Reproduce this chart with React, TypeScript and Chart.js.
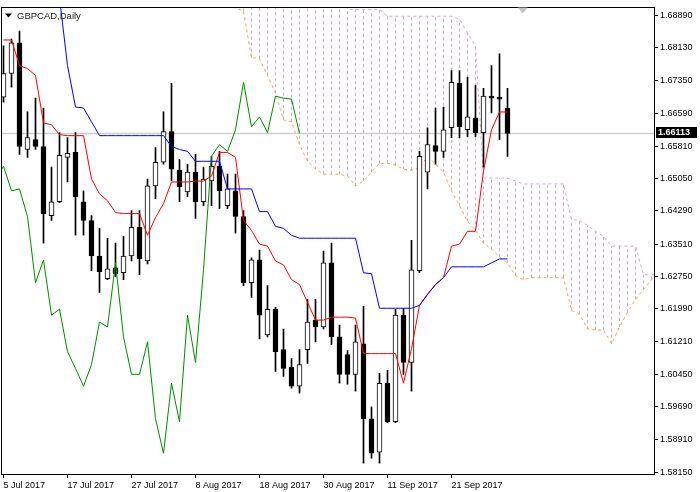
import React, { useEffect, useRef } from "react";
import { Chart, registerables } from "chart.js";

Chart.register(...registerables);

// ---- Axis labels ----
const dateTickIndex = [0, 8, 16, 24, 32, 40, 48, 56];
const dateLabels = ["5 Jul 2017", "17 Jul 2017", "27 Jul 2017", "8 Aug 2017", "18 Aug 2017", "30 Aug 2017", "11 Sep 2017", "21 Sep 2017"];
const priceTicks = [1.6889, 1.6813, 1.6735, 1.6659, 1.6581, 1.6505, 1.6429, 1.6351, 1.6275, 1.6199, 1.6121, 1.6045, 1.5969, 1.5891, 1.5815];

// ---- GBPCAD daily candles (5 Jul 2017 .. 2 Oct 2017) ----
const opens = [
  1.66965, 1.67522, 1.68241, 1.65735, 1.65967, 1.65805, 1.64181, 1.64506, 1.65550, 1.65666,
  1.64506, 1.64065, 1.63230, 1.62697, 1.62952, 1.62836, 1.63230, 1.63903, 1.63114, 1.64877,
  1.65434, 1.66153, 1.65248, 1.64738, 1.65202, 1.64506, 1.64993, 1.65341, 1.64413, 1.64761,
  1.64158, 1.62604, 1.63137, 1.61375, 1.61978, 1.61027, 1.60609, 1.60168, 1.61027, 1.61723,
  1.61560, 1.63068, 1.61328, 1.60911, 1.60447, 1.61166, 1.59403, 1.58614, 1.60238, 1.59333,
  1.61839, 1.60725, 1.62882, 1.65202, 1.65828, 1.65689, 1.66246, 1.67290, 1.66199, 1.66478,
  1.66130, 1.66988, 1.66965, 1.66710,
];
const highs = [
  1.68171, 1.68333, 1.68519, 1.66617, 1.66942, 1.66710, 1.65318, 1.66130, 1.66014, 1.66130,
  1.64761, 1.64181, 1.63880, 1.63648, 1.63532, 1.63694, 1.64297, 1.64297, 1.65040, 1.65782,
  1.66617, 1.67290, 1.65503, 1.65387, 1.65619, 1.65318, 1.65573, 1.65689, 1.65155, 1.65155,
  1.64297, 1.63184, 1.63369, 1.62534, 1.62024, 1.61514, 1.60818, 1.61027, 1.62210, 1.62210,
  1.63346, 1.63532, 1.61607, 1.61003, 1.61607, 1.62047, 1.59681, 1.60470, 1.60540, 1.61978,
  1.62001, 1.63601, 1.65689, 1.66246, 1.66710, 1.66733, 1.67591, 1.67591, 1.67429, 1.67243,
  1.67174, 1.67707, 1.67985, 1.67174,
];
const lows = [
  1.66849, 1.67197, 1.65619, 1.65550, 1.65735, 1.63532, 1.64065, 1.64483, 1.64970, 1.63717,
  1.63717, 1.62882, 1.62372, 1.62674, 1.62743, 1.62674, 1.63114, 1.62790, 1.63045, 1.64576,
  1.65387, 1.64993, 1.64506, 1.64622, 1.64112, 1.64413, 1.64413, 1.64344, 1.64344, 1.63764,
  1.62534, 1.62256, 1.61282, 1.61328, 1.60516, 1.60400, 1.60122, 1.60006, 1.60702, 1.61212,
  1.61514, 1.61143, 1.60238, 1.60215, 1.60052, 1.58359, 1.58475, 1.58359, 1.59310, 1.59310,
  1.60447, 1.60052, 1.62836, 1.64807, 1.65387, 1.65550, 1.66014, 1.66014, 1.66037, 1.66037,
  1.65318, 1.66594, 1.65967, 1.65573,
];
const closes = [
  1.67522, 1.68241, 1.65805, 1.66014, 1.65805, 1.64228, 1.64506, 1.65596, 1.65643, 1.64622,
  1.64065, 1.63230, 1.62859, 1.62929, 1.62813, 1.63230, 1.63903, 1.63161, 1.64877, 1.65434,
  1.66153, 1.65271, 1.64854, 1.65202, 1.64506, 1.65040, 1.65341, 1.64761, 1.64807, 1.64158,
  1.62604, 1.63137, 1.61839, 1.61978, 1.60980, 1.60586, 1.60168, 1.60679, 1.61676, 1.61560,
  1.63068, 1.61328, 1.60447, 1.60447, 1.61212, 1.59403, 1.58591, 1.60238, 1.59333, 1.61839,
  1.60725, 1.62906, 1.65573, 1.65851, 1.65689, 1.66199, 1.67313, 1.66269, 1.66501, 1.66130,
  1.66988, 1.66942, 1.66918, 1.66113,
];
const lastPrice = 1.66113;

// ---- Ichimoku lines ----
const tenkan = [
  1.68310, 1.68310, 1.67707, 1.67638, 1.67475, 1.66362, 1.66315, 1.66083, 1.66060, 1.66060,
  1.66060, 1.65040, 1.64692, 1.64529, 1.64251, 1.64228, 1.64228, 1.64228, 1.63717, 1.64135,
  1.64460, 1.64970, 1.64970, 1.64970, 1.64993, 1.64993, 1.65109, 1.65666, 1.65666, 1.65550,
  1.64065, 1.63833, 1.63509, 1.63462, 1.63114, 1.63021, 1.62674, 1.62558, 1.62140, 1.61723,
  1.61723, 1.61792, 1.61792, 1.61792, 1.61769, 1.60934, 1.60934, 1.60934, 1.60934, 1.60934,
  1.60238, 1.61050, 1.62070, 1.62326, 1.62558, 1.62720, 1.63462, 1.63509, 1.63810, 1.63810,
  1.65225, 1.66199, 1.66617, 1.66617,
];
const kijun = [
  null, null, null, null, null, null, null, 1.69308, 1.67707, 1.66733,
  1.66710, 1.66385, 1.66060, 1.66060, 1.66060, 1.66060, 1.66060, 1.66060, 1.66060, 1.66060,
  1.66060, 1.65805, 1.65735, 1.65689, 1.65457, 1.65457, 1.65457, 1.65457, 1.64807, 1.64807,
  1.64807, 1.64807, 1.64274, 1.64274, 1.63926, 1.63880, 1.63717, 1.63648, 1.63648, 1.63648,
  1.63648, 1.63648, 1.63648, 1.63648, 1.63648, 1.62836, 1.62813, 1.62001, 1.62001, 1.62001,
  1.62001, 1.62001, 1.62070, 1.62326, 1.62558, 1.62720, 1.62975, 1.62975, 1.62975, 1.62975,
  1.62975, 1.63068, 1.63161, 1.63161,
];
const chikouStart = -1;
const chikou = [
  1.65040, 1.65341, 1.64761, 1.64807, 1.64158, 1.62604, 1.63137, 1.61839, 1.61978, 1.60980,
  1.60586, 1.60168, 1.60679, 1.61676, 1.61560, 1.63068, 1.61328, 1.60447, 1.60447, 1.61212,
  1.59403, 1.58591, 1.60238, 1.59333, 1.61839, 1.60725, 1.62906, 1.65573, 1.65851, 1.65689,
  1.66199, 1.67313, 1.66269, 1.66501, 1.66130, 1.66988, 1.66942, 1.66918, 1.66113,
];
const spanStart = 27;
const spanA = [
  1.69377, 1.69192, 1.69064, 1.68983, 1.67893, 1.67869, 1.67475, 1.67058, 1.66431, 1.66385,
  1.65851, 1.65457, 1.65271, 1.65155, 1.65155, 1.65155, 1.65109, 1.64877, 1.64993, 1.65202,
  1.65411, 1.65411, 1.65364, 1.65271, 1.65248, 1.65295, 1.65573, 1.65387, 1.65202, 1.64761,
  1.64413, 1.64042, 1.63833, 1.63532, 1.63393, 1.63207, 1.63068, 1.62766, 1.62674, 1.62720,
  1.62720, 1.62720, 1.62720, 1.62720, 1.61954, 1.61862, 1.61514, 1.61491, 1.61491, 1.61166,
  1.61560, 1.61908, 1.62210, 1.62442, 1.62674, 1.62836,
];
const spanB = [
  1.69795, 1.69795, 1.69795, 1.69795, 1.69795, 1.69795, 1.69795, 1.69795, 1.69795, 1.69795,
  1.69795, 1.69795, 1.69795, 1.69795, 1.69795, 1.69795, 1.69029, 1.69029, 1.69029, 1.69029,
  1.69029, 1.68867, 1.68867, 1.68867, 1.68867, 1.68867, 1.68867, 1.68867, 1.68867, 1.68867,
  1.68797, 1.68473, 1.68171, 1.65063, 1.65063, 1.65063, 1.65063, 1.64993, 1.64924, 1.64924,
  1.64924, 1.64924, 1.64924, 1.64924, 1.64089, 1.64065, 1.63949, 1.63810, 1.63694, 1.63462,
  1.63462, 1.63462, 1.63462, 1.62790, 1.62790, 1.62790,
];

const X_MIN = -0.3125;
const X_MAX = 81.3125;
const Y_MIN = 1.581036;
const Y_MAX = 1.6907557;
const FONT = '"Liberation Sans", Arial, sans-serif';
const KUMO_COLOR = "#d3aad3";

const overlayPlugin = {
  id: "mt4overlay",
  afterDraw(chart: any) {
    const { ctx, chartArea: a, scales } = chart;
    ctx.save();
    ctx.strokeStyle = "#000";
    ctx.lineWidth = 1;
    ctx.strokeRect(Math.round(a.left) + 0.5, Math.round(a.top) + 0.5, Math.round(a.right - a.left), Math.round(a.bottom - a.top));
    ctx.fillStyle = "#000";
    ctx.beginPath();
    ctx.moveTo(a.left + 4, a.top + 6);
    ctx.lineTo(a.left + 11, a.top + 6);
    ctx.lineTo(a.left + 7.5, a.top + 10);
    ctx.closePath();
    ctx.fill();
    ctx.font = `9.5px ${FONT}`;
    ctx.textBaseline = "middle";
    ctx.textAlign = "left";
    ctx.fillStyle = "#1a1a1a";
    ctx.fillText("GBPCAD,Daily", a.left + 16, a.top + 8.5);
    const sx = scales.x.getPixelForValue(closes.length + 0.9);
    ctx.fillStyle = "#c4c4c4";
    ctx.beginPath();
    ctx.moveTo(sx - 5, a.top);
    ctx.lineTo(sx + 5, a.top);
    ctx.lineTo(sx, a.top + 6);
    ctx.closePath();
    ctx.fill();
    const py = scales.y.getPixelForValue(lastPrice);
    ctx.fillStyle = "#000";
    ctx.fillRect(a.right + 2, Math.round(py) - 6, 41, 11);
    ctx.fillStyle = "#fff";
    ctx.font = `bold 9px ${FONT}`;
    ctx.fillText(lastPrice.toFixed(5), a.right + 4, Math.round(py) - 0.5);
    ctx.restore();
  },
};

export default function App() {
  const ref = useRef<HTMLCanvasElement>(null);

  useEffect(() => {
    const canvas = ref.current;
    if (!canvas) return;
    const idx = opens.map((_, i) => i);

    // one dotted vertical segment per bar between the two Senkou spans (MT4 style kumo)
    const kumoSets = spanA.map((a, k) => ({
      type: "line",
      label: "Kumo",
      data: [
        { x: spanStart + k, y: a },
        { x: spanStart + k, y: spanB[k] },
      ],
      borderColor: KUMO_COLOR,
      borderWidth: 1,
      borderDash: [3, 3],
      pointRadius: 0,
      order: 9,
    }));

    const chart = new Chart(canvas, {
      type: "line",
      data: {
        datasets: [
          ...(kumoSets as any[]),
          {
            type: "line",
            label: "Senkou Span A",
            data: spanA.map((v, k) => ({ x: spanStart + k, y: v })),
            borderColor: "#f4a460",
            borderWidth: 1,
            borderDash: [3, 3],
            pointRadius: 0,
            order: 8,
          },
          {
            type: "line",
            label: "Senkou Span B",
            data: spanB.map((v, k) => ({ x: spanStart + k, y: v })),
            borderColor: KUMO_COLOR,
            borderWidth: 1,
            borderDash: [3, 3],
            pointRadius: 0,
            order: 8,
          },
          {
            type: "line",
            label: "Bid",
            data: [{ x: X_MIN, y: lastPrice }, { x: X_MAX, y: lastPrice }],
            borderColor: "#cdcdcd",
            borderWidth: 1.5,
            pointRadius: 0,
            order: 7,
          },
          {
            type: "bar",
            label: "Wick",
            data: idx.map((i) => ({ x: i, y: [lows[i], highs[i]] })),
            backgroundColor: "#000",
            borderWidth: 0,
            barThickness: 1,
            grouped: false,
            order: 6,
          } as any,
          {
            type: "bar",
            label: "Body",
            data: idx.map((i) => ({ x: i, y: [opens[i], closes[i]] })),
            backgroundColor: idx.map((i) => (closes[i] > opens[i] ? "#ffffff" : "#000000")),
            borderColor: "#000",
            borderWidth: 1,
            borderSkipped: false,
            barThickness: 5,
            grouped: false,
            order: 5,
          } as any,
          {
            type: "line",
            label: "Tenkan-sen",
            data: tenkan.map((v, i) => ({ x: i, y: v })),
            borderColor: "#ff0000",
            borderWidth: 1,
            pointRadius: 0,
            order: 4,
          },
          {
            type: "line",
            label: "Kijun-sen",
            data: kijun.map((v, i) => ({ x: i, y: v })).filter((p) => p.y !== null) as any,
            borderColor: "#0000ff",
            borderWidth: 1,
            pointRadius: 0,
            order: 3,
          },
          {
            type: "line",
            label: "Chikou Span",
            data: chikou.map((v, k) => ({ x: chikouStart + k, y: v })),
            borderColor: "#008a00",
            borderWidth: 1,
            pointRadius: 0,
            order: 2,
          },
        ],
      },
      options: {
        animation: false,
        responsive: false,
        devicePixelRatio: 1,
        events: [],
        layout: { padding: { left: 1, top: 1, right: 0, bottom: 0 }, autoPadding: false } as any,
        elements: { line: { tension: 0 }, point: { radius: 0 } },
        plugins: { legend: { display: false }, tooltip: { enabled: false }, title: { display: false } },
        scales: {
          x: {
            type: "linear",
            min: X_MIN,
            max: X_MAX,
            offset: false,
            afterBuildTicks: (s: any) => {
              s.ticks = dateTickIndex.map((v) => ({ value: v }));
            },
            afterFit: (s: any) => {
              s.height = 18;
            },
            ticks: {
              autoSkip: false,
              maxRotation: 0,
              align: "start",
              padding: 2,
              color: "#000",
              font: { family: FONT, size: 9 },
              callback: (v: any) => dateLabels[dateTickIndex.indexOf(Number(v))],
            },
            grid: { drawOnChartArea: false, drawTicks: true, tickLength: 4, color: "#000", offset: false },
            border: { display: true, color: "#000" },
          } as any,
          y: {
            type: "linear",
            position: "right",
            min: Y_MIN,
            max: Y_MAX,
            afterBuildTicks: (s: any) => {
              s.ticks = priceTicks.map((v) => ({ value: v }));
            },
            afterFit: (s: any) => {
              s.width = 46;
            },
            ticks: {
              autoSkip: false,
              padding: 2,
              color: "#000",
              font: { family: FONT, size: 9 },
              callback: (v: any) => Number(v).toFixed(5),
            },
            grid: { drawOnChartArea: false, drawTicks: true, tickLength: 4, color: "#000" },
            border: { display: true, color: "#000" },
          } as any,
        },
      },
      plugins: [overlayPlugin],
    });

    return () => chart.destroy();
  }, []);

  return (
    <div style={{ position: "absolute", left: 0, top: 0, width: 700, height: 492, background: "#fff" }}>
      <canvas ref={ref} width={700} height={492} style={{ display: "block" }} />
    </div>
  );
}
